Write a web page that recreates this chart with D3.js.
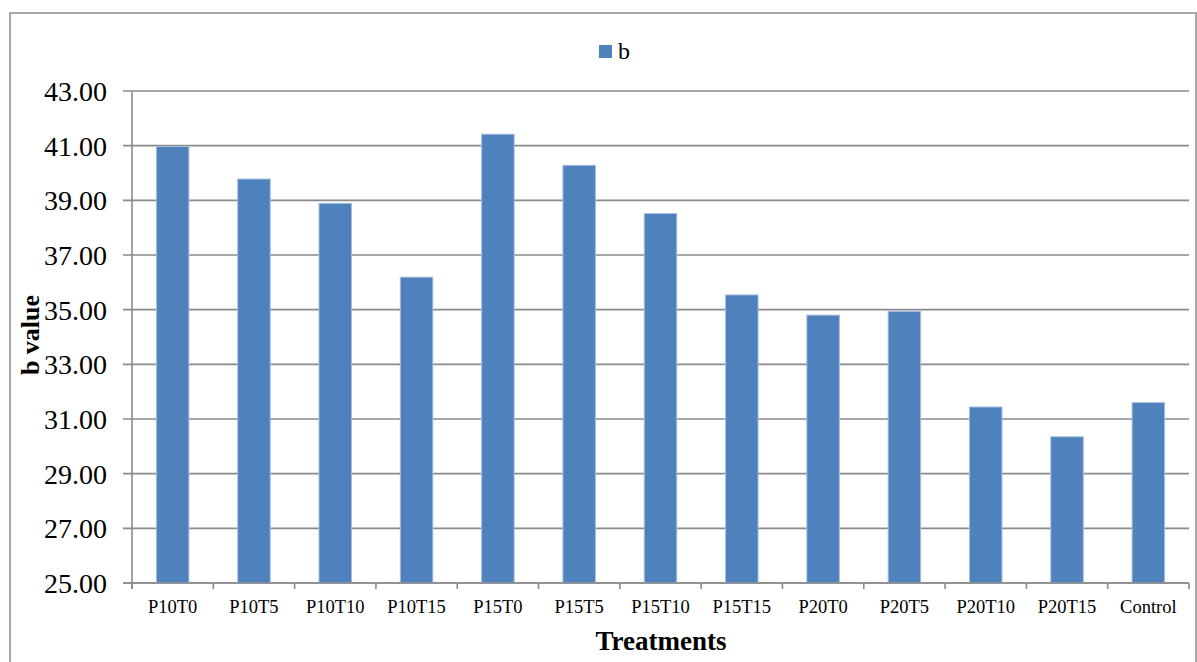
<!DOCTYPE html>
<html><head><meta charset="utf-8">
<script src="https://cdn.jsdelivr.net/npm/d3@7"></script>
<style>body{margin:0;background:#fff}</style></head>
<body><svg id="c" width="1197" height="662"></svg>
<script>
const categories = ["P10T0","P10T5","P10T10","P10T15","P15T0","P15T5","P15T10","P15T15","P20T0","P20T5","P20T10","P20T15","Control"];
const bValues = [40.97,39.78,38.89,36.19,41.42,40.28,38.52,35.54,34.80,34.94,31.44,30.35,31.60];
const yTicks = [25,27,29,31,33,35,37,39,41,43];
const seriesName = "b";

(function(){
const svg = d3.select("#c");
const font = "'Liberation Serif','Times New Roman',serif";
const pL = 132, pR = 1189, pT = 91, pB = 583;

// outer frame
svg.append("path").attr("d","M10,662 L10,13 L1196,13 L1196,662")
  .attr("fill","none").attr("stroke","#8c8c8c").attr("stroke-width",1.5);

const xb = d3.scaleBand().domain(categories).range([pL,pR]);
const y = d3.scaleLinear().domain([25,43]).range([pB,pT]);

// gridlines
svg.append("g").selectAll("line").data(yTicks).join("line")
  .attr("x1",pL-9).attr("x2",pR)
  .attr("y1",d=>y(d)).attr("y2",d=>y(d))
  .attr("stroke","#8a8a8a").attr("stroke-width",1.6);

// y axis line
svg.append("line").attr("x1",pL).attr("x2",pL).attr("y1",pT).attr("y2",pB+6)
  .attr("stroke","#8a8a8a").attr("stroke-width",1.6);

// y tick labels
svg.append("g").selectAll("text").data(yTicks).join("text")
  .attr("x",107).attr("y",d=>y(d)+10)
  .attr("text-anchor","end").attr("font-family",font).attr("font-size",28).attr("fill","#000")
  .text(d=>d.toFixed(2));

// bars
svg.append("g").selectAll("rect").data(categories).join("rect")
  .attr("x",c=>xb(c)+xb.bandwidth()*0.3)
  .attr("width",xb.bandwidth()*0.4)
  .attr("y",(c,i)=>y(bValues[i]))
  .attr("height",(c,i)=>y(25)-y(bValues[i]))
  .attr("fill","#4f81bd").attr("stroke","#a7bfe0").attr("stroke-width",1);

// x axis
svg.append("line").attr("x1",pL-9).attr("x2",pR).attr("y1",pB).attr("y2",pB)
  .attr("stroke","#8a8a8a").attr("stroke-width",1.6);
const edges = categories.map(c=>xb(c)).concat([pR]);
svg.append("g").selectAll("line").data(edges).join("line")
  .attr("x1",d=>d).attr("x2",d=>d).attr("y1",pB).attr("y2",pB+6)
  .attr("stroke","#8a8a8a").attr("stroke-width",1.6);

svg.append("g").selectAll("text").data(categories).join("text")
  .attr("x",c=>xb(c)+xb.bandwidth()/2).attr("y",613)
  .attr("text-anchor","middle").attr("font-family",font).attr("font-size",18.5).attr("fill","#000")
  .text(c=>c);

// axis titles
svg.append("text").attr("x",661).attr("y",650).attr("text-anchor","middle")
  .attr("font-family",font).attr("font-size",27).attr("font-weight","bold").text("Treatments");
svg.append("text").attr("transform","translate(39,335) rotate(-90)").attr("text-anchor","middle")
  .attr("font-family",font).attr("font-size",26).attr("font-weight","bold").text("b value");

// legend
svg.append("rect").attr("x",599).attr("y",45).attr("width",13).attr("height",13).attr("fill","#4f81bd");
svg.append("text").attr("x",618).attr("y",59).attr("font-family",font).attr("font-size",24).text(seriesName);
})();
</script></body></html>
